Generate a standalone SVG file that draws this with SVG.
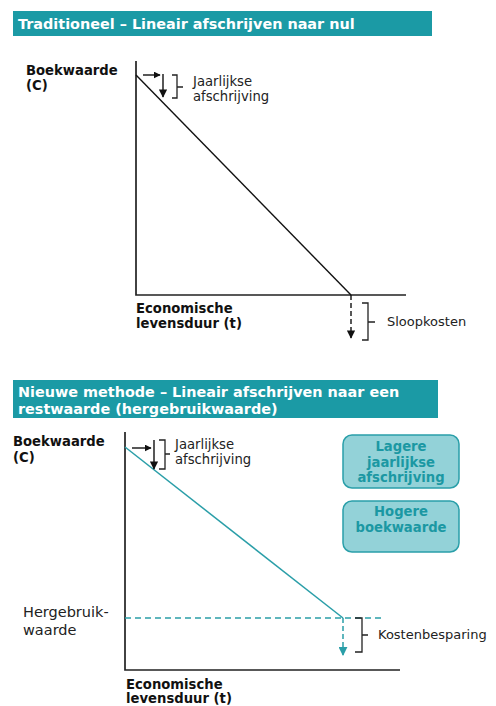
<svg xmlns="http://www.w3.org/2000/svg" width="496" height="706" viewBox="0 0 496 706">
<style>
text{font-family:"DejaVu Sans","Noto Sans",sans-serif;}
.t{font-size:14.4px;font-weight:bold;fill:#fff;}
.b{font-size:13.2px;font-weight:bold;fill:#111;}
.n{font-size:13px;fill:#222;}
.j{font-size:13.2px;fill:#222;}
.h{font-size:14.5px;fill:#222;}
.bx{font-size:13.2px;font-weight:bold;fill:#1b98a3;text-anchor:middle;}
.ax{stroke:#222;stroke-width:1.7;fill:none;}
.k{stroke:#111;stroke-width:1.4;fill:none;}
.tl{stroke:#2a9ea8;stroke-width:1.5;fill:none;}
.br{stroke:#222;stroke-width:1.3;fill:none;}
.box{fill:#93d2d8;stroke:#2a9fa9;stroke-width:1.5;}
</style>
<defs>
<marker id="ak" viewBox="0 0 10 10" refX="9" refY="5" markerWidth="6" markerHeight="6" orient="auto"><path d="M0,0L10,5L0,10z" fill="#111"/></marker>
<marker id="as" viewBox="0 0 10 10" refX="9" refY="5" markerWidth="5" markerHeight="5" orient="auto"><path d="M0,0L10,5L0,10z" fill="#111"/></marker>
<marker id="at" viewBox="0 0 10 10" refX="9" refY="5" markerWidth="6" markerHeight="6" orient="auto"><path d="M0,0L10,5L0,10z" fill="#2a9ea8"/></marker>
</defs>
<g id="title1"><rect x="13" y="11" width="419" height="25" fill="#1b9aa5"/><text class="t" x="18" y="29">Traditioneel – Lineair afschrijven naar nul</text></g>
<g id="chart1">
<path class="ax" d="M136,61V295H406"/>
<text class="b" x="26" y="75">Boekwaarde</text><text class="b" x="26" y="90">(C)</text>
<text class="b" x="136" y="313">Economische</text><text class="b" x="136" y="328">levensduur (t)</text>
</g>
<g id="connectors">
<path class="k" d="M136,75L351,295"/>
<path class="k" d="M143,75H160" marker-end="url(#as)"/>
<path class="k" d="M163,74V97" marker-end="url(#ak)"/>
<path class="br" d="M172,75H177V98H172M177,87H183"/>
<text class="j" x="193" y="86">Jaarlijkse</text><text class="j" x="193" y="101">afschrijving</text>
<path class="k" stroke-dasharray="5,3" d="M351,295V338" marker-end="url(#ak)"/>
<path class="br" d="M362,303H368V340H362M368,322H375"/>
<text class="n" x="387" y="326">Sloopkosten</text>
</g>
<g id="title2"><rect x="13" y="380" width="425" height="38" fill="#1b9aa5"/><text class="t" x="18" y="397">Nieuwe methode – Lineair afschrijven naar een</text><text class="t" x="18" y="414">restwaarde (hergebruikwaarde)</text></g>
<g id="chart2">
<path class="ax" d="M125,432V670H400"/>
<text class="b" x="13" y="446">Boekwaarde</text><text class="b" x="13" y="462">(C)</text>
<text class="h" x="23" y="617">Hergebruik-</text><text class="h" x="23" y="635">waarde</text>
<text class="b" x="126" y="689">Economische</text><text class="b" x="126" y="703">levensduur (t)</text>
</g>
<g id="connectors2">
<path class="tl" d="M125,447L343,618"/>
<path class="tl" stroke-dasharray="6,4" d="M125,618H382"/>
<path class="k" d="M132,448H151" marker-end="url(#as)"/>
<path class="k" d="M154,440V469" marker-end="url(#ak)"/>
<path class="br" d="M159,440H165V469H159M165,454H170"/>
<text class="j" x="175" y="449">Jaarlijkse</text><text class="j" x="175" y="464">afschrijving</text>
<path class="tl" stroke-dasharray="5,3" d="M343,618V655" marker-end="url(#at)"/>
<path class="br" d="M355,618H362V652H355M362,635H368"/>
<text class="n" x="378" y="639">Kostenbesparing</text>
</g>
<g id="box1"><rect class="box" x="343" y="435" width="116" height="53" rx="9"/><text class="bx" x="401" y="451">Lagere</text><text class="bx" x="401" y="467">jaarlijkse</text><text class="bx" x="401" y="482">afschrijving</text></g>
<g id="box2"><rect class="box" x="343" y="501" width="116" height="51" rx="9"/><text class="bx" x="401" y="516">Hogere</text><text class="bx" x="401" y="532">boekwaarde</text></g>
</svg>
